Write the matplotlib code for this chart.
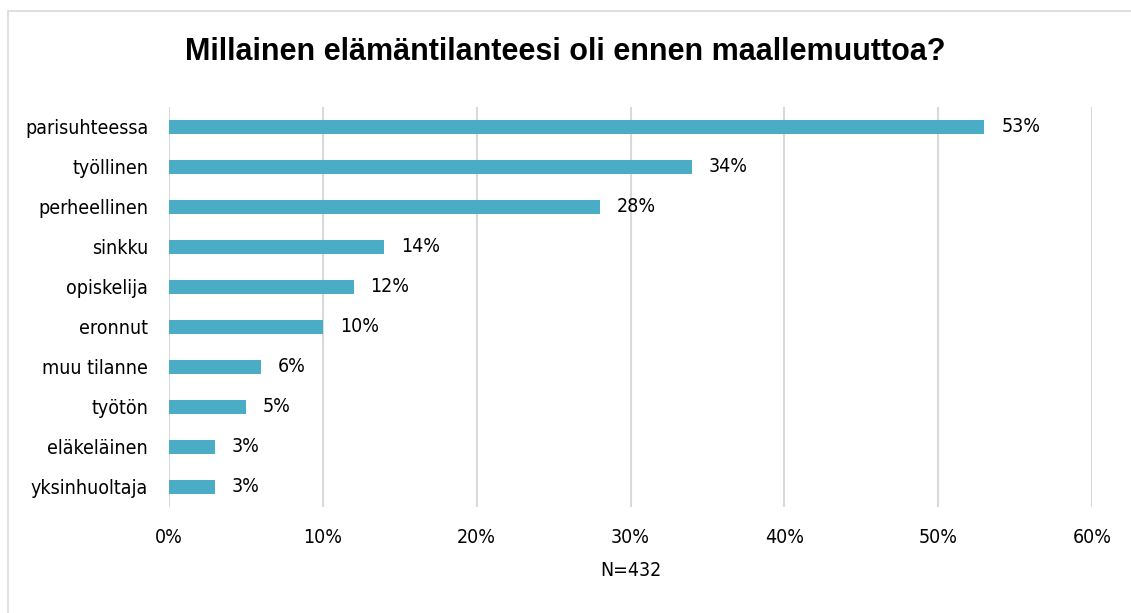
import matplotlib.pyplot as plt
from matplotlib.patches import Rectangle
from matplotlib import font_manager

categories = ["parisuhteessa", "työllinen", "perheellinen", "sinkku", "opiskelija",
              "eronnut", "muu tilanne", "työtön", "eläkeläinen", "yksinhuoltaja"]
values = [53, 34, 28, 14, 12, 10, 6, 5, 3, 3]
xticks = [0, 10, 20, 30, 40, 50, 60]

# the reference uses a narrow font; pick one if it is there
names = set(f.name for f in font_manager.fontManager.ttflist)
if "Liberation Sans Narrow" in names:
    narrow = dict(family=["Liberation Sans Narrow", "DejaVu Sans"], fontsize=16)
else:
    narrow = dict(family=["DejaVu Sans"], fontstretch="condensed", fontsize=14)

bar_color = "#4BACC6"

fig = plt.figure(figsize=(11.31, 6.13), dpi=100)
ax = fig.add_axes([169 / 1131, 1 - 507 / 613, (1092 - 169) / 1131, 400 / 613])

# outer chart border (cut at right/bottom like the reference)
fig.patches.append(Rectangle((8 / 1131, -0.1), 1.2, 1 - 11 / 613 + 0.1,
                             transform=fig.transFigure, fill=False,
                             edgecolor="#d9d9d9", linewidth=1.2))

y = list(range(len(categories)))
ax.barh(y, values, height=0.35, color=bar_color, zorder=3)
for yi, v in zip(y, values):
    ax.text(v + 1.1, yi, f"{v}%", va="center", ha="left", color="#000000", **narrow)

ax.set_ylim(len(categories) - 0.5, -0.5)
ax.set_xlim(0, 60)
ax.set_yticks(y)
ax.set_yticklabels(categories, **narrow)
ax.set_xticks(xticks)
ax.set_xticklabels([f"{t}%" for t in xticks], **narrow)
ax.tick_params(axis="both", length=0)
ax.tick_params(axis="y", pad=15)
ax.tick_params(axis="x", pad=15)
ax.grid(axis="x", color="#d9d9d9", linewidth=1.5, zorder=0)
for s in ax.spines.values():
    s.set_visible(False)

ax.set_xlabel("N=432", labelpad=10, **narrow)
fig.text(565 / 1131, 1 - 52 / 613, "Millainen elämäntilanteesi oli ennen maallemuuttoa?",
         ha="center", va="center", fontsize=22, fontweight="bold",
         family=["Liberation Sans", "DejaVu Sans"])

fig.savefig("out.png", dpi=100)
